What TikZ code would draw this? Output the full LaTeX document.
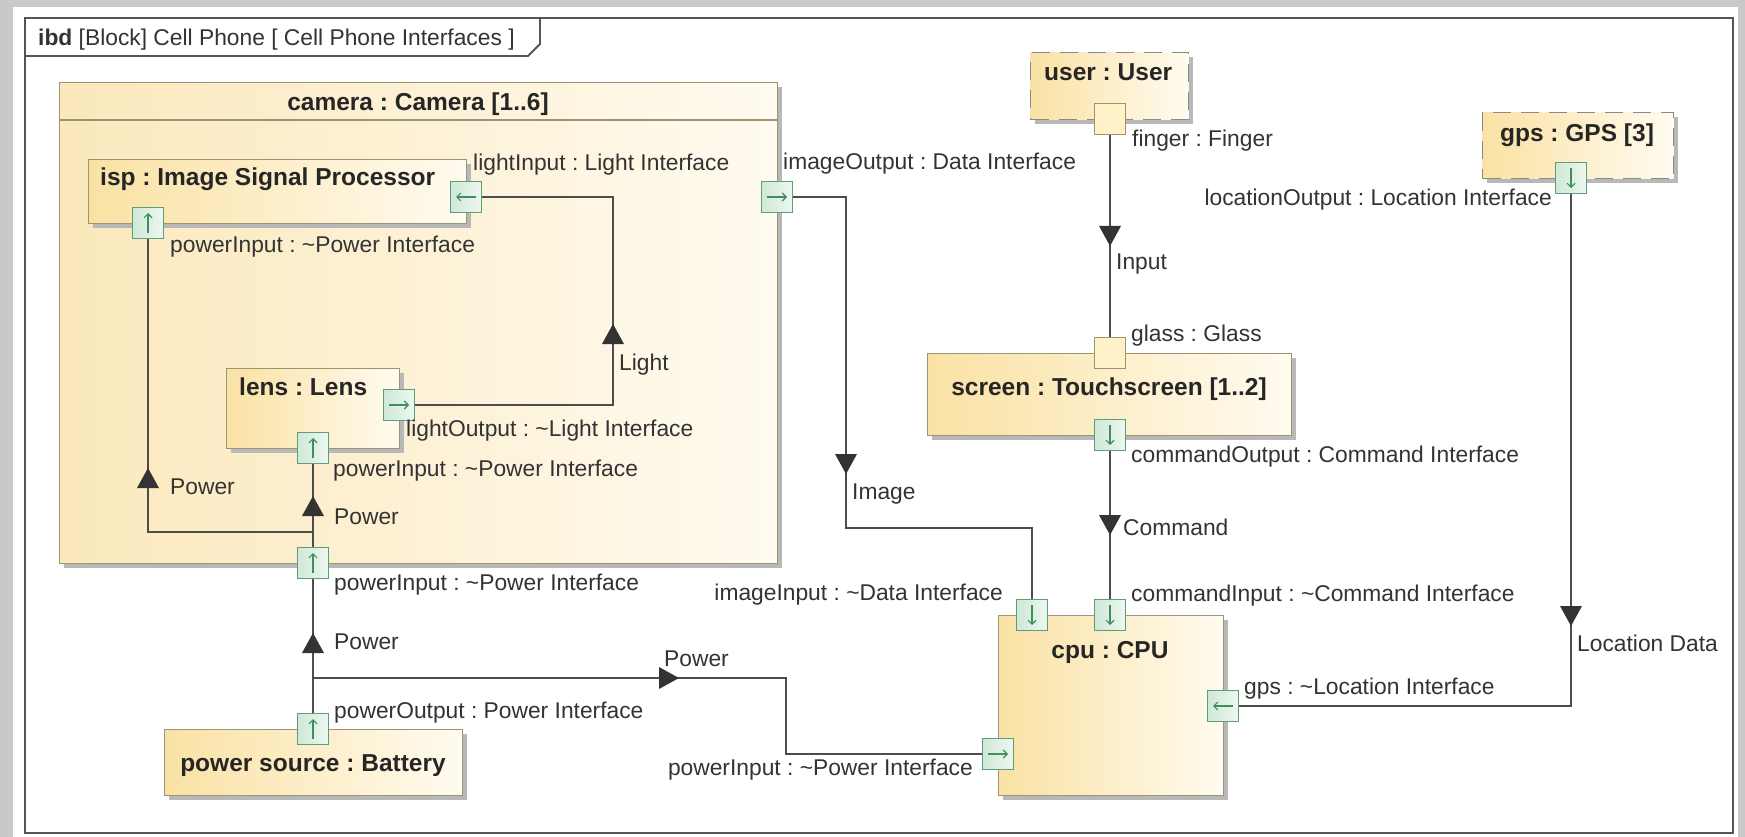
\documentclass[tikz,border=0pt]{standalone}
\usepackage{fontspec}
\setmainfont{Liberation Sans}
\usetikzlibrary{shadows,arrows.meta,calc}
\frenchspacing
\definecolor{bgc}{HTML}{C9C9C9}
\definecolor{framec}{HTML}{555555}
\definecolor{connc}{HTML}{4D4D4D}
\definecolor{flowc}{HTML}{333333}
\definecolor{boxc}{HTML}{9B9575}
\definecolor{yl}{HTML}{FAE2A4}
\definecolor{yr}{HTML}{FFFBF0}
\definecolor{camyl}{HTML}{FBE8BC}
\definecolor{portc}{HTML}{5E9E74}
\definecolor{portl}{HTML}{CFE8D7}
\definecolor{portr}{HTML}{EEF7F1}
\definecolor{portarrc}{HTML}{3E8E5E}
\definecolor{txtc}{HTML}{333333}
\definecolor{dashc}{HTML}{8A8A8A}
\definecolor{uportc}{HTML}{FFF2C8}
\newcommand\flowtri[2]{\fill[flowc,shift={(#1)},rotate=#2] (10pt,0pt) -- (-10pt,11pt) -- (-10pt,-11pt) -- cycle;}
\newcommand\parR[1]{\draw[parr] ([xshift=-10pt]#1.center) -- ([xshift=10pt]#1.center);}
\newcommand\parL[1]{\draw[parr] ([xshift=10pt]#1.center) -- ([xshift=-10pt]#1.center);}
\newcommand\parU[1]{\draw[parr] ([yshift=-10pt]#1.center) -- ([yshift=10pt]#1.center);}
\newcommand\parD[1]{\draw[parr] ([yshift=10pt]#1.center) -- ([yshift=-10pt]#1.center);}
\begin{document}
\begin{tikzpicture}[x=1pt,y=-1pt,
  blk/.style={draw=boxc, line width=1.4pt, left color=yl, right color=yr,
    general shadow={fill=black!28, shadow xshift=4pt, shadow yshift=-4pt},
    anchor=north west, inner sep=0pt},
  dblk/.style={blk, draw=dashc, dash pattern=on 18pt off 10pt},
  port/.style={draw=portc, line width=1.2pt, left color=portl, right color=portr,
    minimum size=31pt, inner sep=0pt},
  uport/.style={draw=boxc, line width=1.2pt, fill=uportc, minimum size=31pt, inner sep=0pt},
  parr/.style={draw=portarrc, line width=1.1pt, -{Straight Barb[length=4pt,width=8pt]}},
  conn/.style={draw=connc, line width=1.8pt},
  lbl/.style={font=\fontsize{22.8}{26}\selectfont, text=txtc, inner sep=0pt, anchor=west,
    text height=16pt, text depth=0pt},
  ttl/.style={font=\bfseries\fontsize{24.5}{28}\selectfont, text=black!85, inner sep=0pt,
    text height=17pt, text depth=0pt}
]
\useasboundingbox (0,0) rectangle (1745,837);
% background and frame
\fill[bgc] (0,0) rectangle (1745,837);
\fill[white] (13,7) rectangle (1738,837);
\draw[framec, line width=1.8pt] (25,18) rectangle (1733,833);
\draw[framec, line width=1.8pt] (25,56) -- (528,56) -- (540,44) -- (540,18);
\node[lbl] (title) at (38,38) {\textbf{ibd} [Block] Cell Phone [ Cell Phone Interfaces ]};

% blocks
\node[blk, left color=camyl, minimum width=718pt, minimum height=481pt] (camera) at (59,82) {};
\draw[draw=boxc, line width=1.4pt] (camera.west |- 0,120) -- (camera.east |- 0,120);
\node[ttl] (cameraT) at (418,102) {camera : Camera [1..6]};
\node[blk, minimum width=378pt, minimum height=64pt] (isp) at (88,159) {};
\node[ttl, anchor=west] (ispT) at (100,177) {isp : Image Signal Processor};
\node[blk, minimum width=173pt, minimum height=80pt] (lens) at (226,368) {};
\node[ttl, anchor=west] (lensT) at (239,387) {lens : Lens};
\node[blk, minimum width=298pt, minimum height=66pt] (battery) at (164,729) {};
\node[ttl] (batteryT) at (313,763) {power source : Battery};
\node[blk, minimum width=225pt, minimum height=180pt] (cpu) at (998,615) {};
\node[ttl] (cpuT) at (1110,650) {cpu : CPU};
\node[blk, minimum width=364pt, minimum height=82pt] (screen) at (927,353) {};
\node[ttl] (screenT) at (1109,387) {screen : Touchscreen [1..2]};
\node[dblk, minimum width=158pt, minimum height=67pt] (user) at (1030,52) {};
\node[ttl, anchor=west] (userT) at (1044,72) {user : User};
\node[dblk, minimum width=191pt, minimum height=66pt] (gps) at (1482,112) {};
\node[ttl] (gpsT) at (1577,133) {gps : GPS [3]};

% ports
\node[port] (lightIn) at (466,197) {};
\node[port] (ispPow) at (148,223) {};
\node[port] (lightOut) at (399,405) {};
\node[port] (lensPow) at (313,448) {};
\node[port] (camPow) at (313,563) {};
\node[port] (imgOut) at (777,197) {};
\node[port] (batPow) at (313,729) {};
\node[port] (imgIn) at (1032,615) {};
\node[port] (cmdIn) at (1110,615) {};
\node[port] (cpuPow) at (998,754) {};
\node[port] (cpuGps) at (1223,706) {};
\node[port] (cmdOut) at (1110,435) {};
\node[port] (locOut) at (1571,178) {};
\node[uport] (finger) at (1110,119) {};
\node[uport] (glass) at (1110,353) {};

% connectors
\coordinate (lightbend) at (613,300);
\draw[conn] (lightIn.east) -| (lightbend) |- (lightOut.east);
\coordinate (pj) at (313,532);
\draw[conn] (pj) -| (ispPow.south);
\draw[conn] (camPow.north) -- (lensPow.south);
\draw[conn] (batPow.north) -- (camPow.south);
\coordinate (bj) at (313,678);
\coordinate (pbend) at (786,700);
\draw[conn] (bj) -| (pbend) |- (cpuPow.west);
\coordinate (ib1) at (846,300);
\coordinate (ib2) at (940,528);
\draw[conn] (imgOut.east) -| (ib1) |- (ib2) -| (imgIn.north);
\draw[conn] (finger.south) -- (glass.north);
\draw[conn] (cmdOut.south) -- (cmdIn.north);
\draw[conn] (locOut.south) |- (cpuGps.east);

% port arrows
\parL{lightIn} \parU{ispPow} \parR{lightOut} \parU{lensPow} \parU{camPow}
\parR{imgOut} \parU{batPow} \parD{imgIn} \parD{cmdIn} \parR{cpuPow}
\parL{cpuGps} \parD{cmdOut} \parD{locOut}

% item flow triangles
\flowtri{148,478}{90}
\flowtri{313,506}{90}
\flowtri{313,643}{90}
\flowtri{669,678}{0}
\flowtri{613,334}{90}
\flowtri{846,464}{-90}
\flowtri{1110,236}{-90}
\flowtri{1110,525}{-90}
\flowtri{1571,616}{-90}

% labels
\node[lbl] (l1) at (473,163) {lightInput : Light Interface};
\node[lbl] (l2) at (170,244) {powerInput : \textasciitilde Power Interface};
\node[lbl] (l3) at (619,362) {Light};
\node[lbl] (l4) at (406,428) {lightOutput : \textasciitilde Light Interface};
\node[lbl] (l5) at (333,468) {powerInput : \textasciitilde Power Interface};
\node[lbl] (l6) at (170,486) {Power};
\node[lbl] (l7) at (334,516) {Power};
\node[lbl] (l8) at (334,582) {powerInput : \textasciitilde Power Interface};
\node[lbl] (l9) at (334,641) {Power};
\node[lbl] (l10) at (334,710) {powerOutput : Power Interface};
\node[lbl] (l11) at (664,658) {Power};
\node[lbl, anchor=east] (l12) at (973,767) {powerInput : \textasciitilde Power Interface};
\node[lbl] (l13) at (783,162) {imageOutput : Data Interface};
\node[lbl] (l14) at (852,491) {Image};
\node[lbl, anchor=east] (l15) at (1003,592) {imageInput : \textasciitilde Data Interface};
\node[lbl] (l16) at (1132,139) {finger : Finger};
\node[lbl] (l17) at (1116,261) {Input};
\node[lbl] (l18) at (1131,333) {glass : Glass};
\node[lbl] (l19) at (1131,454) {commandOutput : Command Interface};
\node[lbl] (l20) at (1123,527) {Command};
\node[lbl] (l21) at (1131,593) {commandInput : \textasciitilde Command Interface};
\node[lbl, anchor=east] (l22) at (1552,198) {locationOutput : Location Interface};
\node[lbl] (l23) at (1577,643) {Location Data};
\node[lbl] (l24) at (1244,686) {gps : \textasciitilde Location Interface};
\end{tikzpicture}
\end{document}
